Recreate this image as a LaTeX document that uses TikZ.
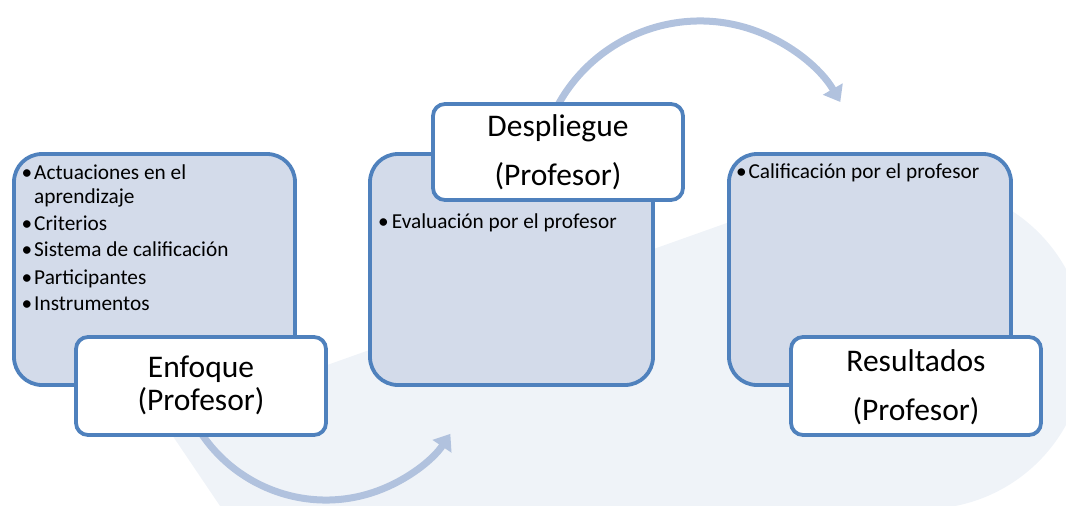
\documentclass[tikz,border=0pt]{standalone}
\usepackage{fontspec}
\setmainfont{Carlito}
\usetikzlibrary{arrows.meta}
\definecolor{bordc}{RGB}{79,129,189}
\definecolor{fillc}{RGB}{211,219,234}
\definecolor{bgc}{RGB}{239,243,248}
\definecolor{arrc}{RGB}{177,194,222}
\begin{document}
\begin{tikzpicture}[x=1pt,y=-1pt,
  listbox/.style={draw=bordc, fill=fillc, line width=3.8pt, rounded corners=28pt, inner sep=0pt},
  titlebox/.style={draw=bordc, fill=white, line width=3.8pt, rounded corners=12pt, inner sep=0pt},
  item/.style={anchor=base west, inner sep=0pt, font=\fontsize{21.3}{25}\selectfont},
  bul/.style={anchor=base, inner sep=0pt, font=\fontsize{21.3}{25}\selectfont},
  title/.style={anchor=base, inner sep=0pt, font=\fontsize{31.5}{36}\selectfont},
  flow/.style={draw=arrc, line width=7pt, -{Triangle[width=22pt,length=15pt]}}]
\useasboundingbox (0,0) rectangle (1066,506);
\begin{scope}
\clip (0,0) rectangle (1066,506);
% background swoosh
\fill[bgc] (243,540) -- (164,423) -- (800,197) -- (924,250) -- (950,540) -- cycle;
\fill[bgc] (924,347) circle[radius=162];
% flow arrows
\coordinate (a1s) at ({326+150*cos(160)},{350+150*sin(160)});
\coordinate (a2s) at ({700+162*cos(200)},{183+162*sin(200)});
\draw[flow] (a1s) arc[start angle=160, end angle=34, radius=150];
\draw[flow] (a2s) arc[start angle=200, end angle=330, radius=162];
\end{scope}
% list boxes
\node[listbox, minimum width=281pt, minimum height=231pt] (b1) at (154.5,269.5) {};
\node[listbox, minimum width=283pt, minimum height=231pt] (b2) at (511.5,269.5) {};
\node[listbox, minimum width=282pt, minimum height=231pt] (b3) at (870,269.5) {};
% title boxes
\node[titlebox, minimum width=250pt, minimum height=98pt] (w1) at (201,386) {};
\node[titlebox, minimum width=250pt, minimum height=96pt] (w2) at (558,152) {};
\node[titlebox, minimum width=250pt, minimum height=98pt] (w3) at (916,386) {};
% box 1 items
\node[bul] (p1) at (27,179.3) {•};
\node[item] (i1) at (34,179.3) {Actuaciones en el};
\node[item] (i1b) at (34,203.3) {aprendizaje};
\node[bul] (p2) at (27,230) {•};
\node[item] (i2) at (34,230) {Criterios};
\node[bul] (p3) at (27,256.7) {•};
\node[item] (i3) at (34,256.7) {Sistema de calificación};
\node[bul] (p4) at (27,284) {•};
\node[item] (i4) at (34,284) {Participantes};
\node[bul] (p5) at (27,310.7) {•};
\node[item] (i5) at (34,310.7) {Instrumentos};
% box 2 item
\node[bul] (q1) at (383.5,228) {•};
\node[item] (j1) at (391.7,228) {Evaluación por el profesor};
% box 3 item
\node[bul] (r1) at (741.5,178) {•};
\node[item] (k1) at (748.3,178) {Calificación por el profesor};
% titles
\node[title] (t1a) at (201,377.3) {Enfoque};
\node[title] (t1b) at (201,410.7) {(Profesor)};
\node[title] (t2a) at (558,136.7) {Despliegue};
\node[title] (t2b) at (558,185.7) {(Profesor)};
\node[title] (t3a) at (916,371.7) {Resultados};
\node[title] (t3b) at (916,420) {(Profesor)};
\end{tikzpicture}
\end{document}
